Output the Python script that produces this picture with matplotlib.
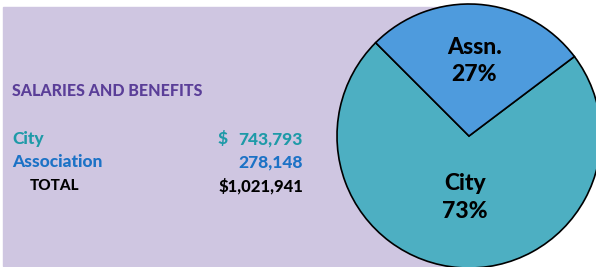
import matplotlib.pyplot as plt
from matplotlib.patches import Rectangle
import numpy as np

plt.rcParams['font.family'] = ['Lato', 'DejaVu Sans']

heading = "SALARIES AND BENEFITS"
categories = ["City", "Association"]
short_labels = ["City", "Assn."]
amounts = [743793, 278148]
colors = ["#4DAFC2", "#4E9BDD"]
text_colors = ["#1E9AA8", "#1C72C6"]

total = sum(amounts)
H = 267
W = "black"

fig = plt.figure(figsize=(5.96, 2.67), dpi=100)
ax = fig.add_axes([0, 0, 1, 1])

# lavender panel behind the table
ax.add_patch(Rectangle((3, H - 266), 466, 259, color="#CFC6E1", zorder=0))

cx, cy, r = 469, H - 136, 132
wedges, _ = ax.pie(amounts, colors=colors, startangle=135, counterclock=True,
                   center=(cx, cy), radius=r,
                   wedgeprops=dict(edgecolor="black", linewidth=1.2))
for w in wedges:
    w.set_zorder(2)

dists = [0.47, 0.57]
for w, lab, amt, d in zip(wedges, short_labels, amounts, dists):
    mid = np.deg2rad((w.theta1 + w.theta2) / 2)
    ax.text(cx + r * d * np.cos(mid), cy + r * d * np.sin(mid),
            f"{lab}\n{amt / total * 100:.0f}%", ha="center", va="center",
            fontsize=16.5, fontweight=W, linespacing=1.4, zorder=3)

# table on the left
ax.text(12, H - 91, heading, color="#5A3E98", fontsize=11.5, fontweight=W,
        va="center")
rows_y = [H - 139, H - 162]
for name, amt, col, y in zip(categories, amounts, text_colors, rows_y):
    ax.text(12, y, name, color=col, fontsize=12.5, fontweight=W, va="center")
    ax.text(303, y, f"{amt:,}", color=col, fontsize=12.5, fontweight=W,
            va="center", ha="right")
ax.text(218, rows_y[0], "$", color=text_colors[0], fontsize=12.5,
        fontweight=W, va="center")
ax.text(30, H - 186, "TOTAL", color="black", fontsize=11, fontweight=W,
        va="center")
ax.text(303, H - 186, f"${total:,}", color="black", fontsize=12,
        fontweight=W, va="center", ha="right")

ax.set_xlim(0, 596)
ax.set_ylim(0, H)
ax.set_aspect("auto")
ax.axis("off")

fig.savefig("out.png", dpi=100)
